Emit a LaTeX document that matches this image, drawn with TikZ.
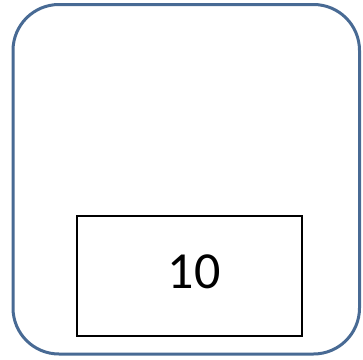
\documentclass[tikz,border=0pt]{standalone}
\usepackage{fontspec}
\setmainfont{Carlito}
\definecolor{outerblue}{RGB}{72,106,148}
\begin{document}
\begin{tikzpicture}[x=1pt,y=-1pt,
  outerbox/.style={draw=outerblue,line width=3pt,rounded corners=46pt},
  innerbox/.style={draw=black,line width=2.4pt}]
\useasboundingbox (0,0) rectangle (363,359);
\draw[outerbox] (13,4.5) rectangle (359.5,354);
\draw[innerbox] (77,216) rectangle (302,336);
\node[inner sep=0pt,font=\fontsize{52}{60}\selectfont] (val) at (194,272) {10};
\end{tikzpicture}
\end{document}
